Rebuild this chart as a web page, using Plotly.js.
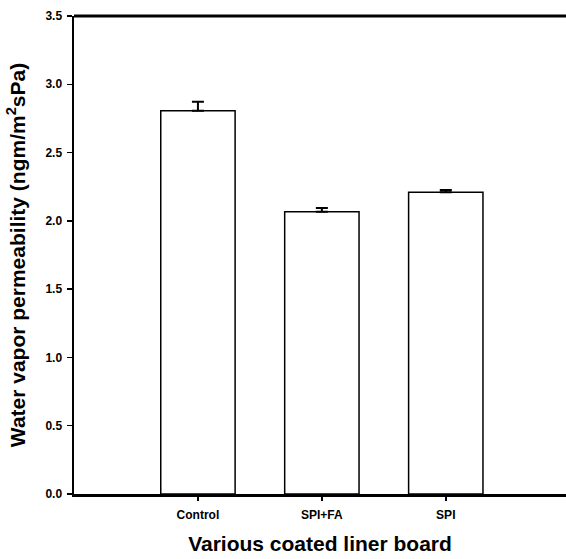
<!DOCTYPE html>
<html>
<head>
<meta charset="utf-8">
<script src="https://cdn.plot.ly/plotly-3.0.1.min.js"></script>
<style>html,body{margin:0;padding:0;background:#fff;}#chart{width:566px;height:559px;}</style>
</head>
<body>
<div id="chart"></div>
<script>
var categories = ["Control", "SPI+FA", "SPI"];
var values = [2.806, 2.067, 2.209];
var errors = [0.067, 0.027, 0.017];
var yTicks = [0, 0.5, 1.0, 1.5, 2.0, 2.5, 3.0, 3.5];
var yTickLabels = ["0.0", "0.5", "1.0", "1.5", "2.0", "2.5", "3.0", "3.5"];

var font = "Liberation Sans, Arial, sans-serif";
var trace = {
  type: "bar",
  x: [0, 1, 2],
  y: values,
  width: 0.6,
  marker: {color: "#ffffff", line: {color: "#000000", width: 1.5}},
  error_y: {type: "data", array: errors, visible: true, symmetric: false, arrayminus: [0,0,0], color: "#000000", thickness: 2, width: 6}
};
var layout = {
  width: 566, height: 559,
  margin: {l: 74, r: 0, t: 16, b: 65},
  paper_bgcolor: "#fff", plot_bgcolor: "#fff",
  showlegend: false,
  xaxis: {
    range: [-1, 2.97],
    tickmode: "array", tickvals: [0, 1, 2], ticktext: categories,
    ticks: "outside", ticklen: 4, tickwidth: 1.5, tickcolor: "#000",
    ticklabelstandoff: 4,
    showline: true, linecolor: "#000", linewidth: 2.5,
    showgrid: false, zeroline: false,
    tickfont: {family: font, size: 12, color: "#000", weight: "bold"},
    title: {text: "<b>Various coated liner board</b>", font: {family: font, size: 21, color: "#000"}, standoff: 16}
  },
  yaxis: {
    range: [0, 3.5],
    tickmode: "array", tickvals: yTicks, ticktext: yTickLabels,
    ticks: "outside", ticklen: 5, tickwidth: 1.5, tickcolor: "#000",
    ticklabelstandoff: 2,
    showline: true, linecolor: "#000", linewidth: 2.5,
    showgrid: false, zeroline: false,
    tickfont: {family: font, size: 12, color: "#000", weight: "bold"},
    title: {text: "<b>Water vapor permeability (ngm/m<sup>2</sup>sPa)</b>", font: {family: font, size: 21, color: "#000"}, standoff: 14}
  },
  shapes: [{type: "line", xref: "paper", yref: "paper", x0: 0, x1: 1, y0: 1, y1: 1, line: {color: "#000", width: 3}}]
};
Plotly.newPlot("chart", [trace], layout, {displayModeBar: false, staticPlot: true});
</script>
</body>
</html>
